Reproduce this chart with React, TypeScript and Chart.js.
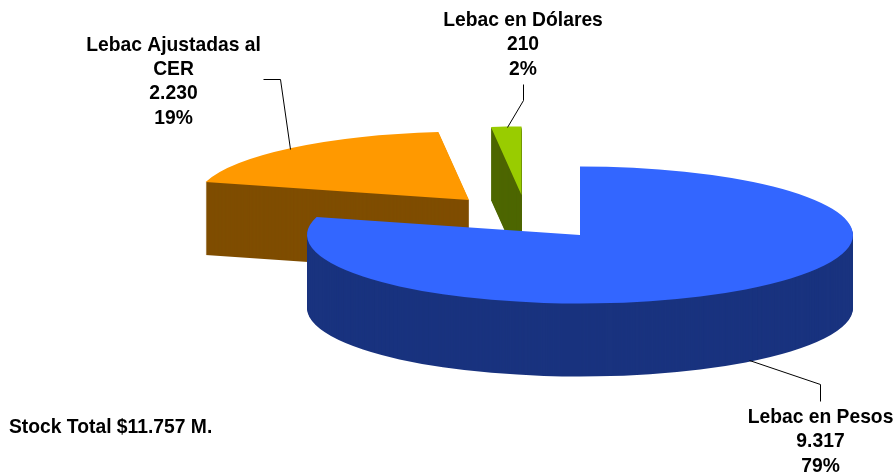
import React, { useEffect, useRef } from "react";
import { Chart, registerables } from "chart.js";

Chart.register(...registerables);

const categories = ["Lebac en Pesos", "Lebac Ajustadas al CER", "Lebac en Dólares"];
const values = [9317, 2230, 210];
const valueLabels = ["9.317", "2.230", "210"];
const percentLabels = ["79%", "19%", "2%"];
const stockLabel = "Stock Total $11.757 M.";

const topColors = ["#3366ff", "#ff9900", "#99cc00"];
const sideColors = ["#19337f", "#7f4d00", "#4d6600"];

// Projection of the 3D pie: slice centre on the page, and ellipse radii
const sliceCentres = [
  { x: 580, y: 235 },
  { x: 469, y: 200 },
  { x: 521.5, y: 195 },
];
const RX = 273;
const RY = 68.5;
const DEPTH = 73;
const drawOrder = [1, 2, 0];

const labelLines = [
  [["Lebac en Pesos"], 820.5, 423],
  [["Lebac Ajustadas al", "CER"], 173.5, 50.5],
  [["Lebac en Dólares"], 523, 26],
] as const;
const LINE_H = 24.4;
const FONT = 'bold 19.3px "Liberation Sans", Arial, sans-serif';

const leaders = [
  [[749, 360], [820, 384], [820, 401]],
  [[263, 79], [280, 79], [290, 149]],
  [[507, 127], [523, 100], [523, 84]],
];

const pie3d = {
  id: "pie3d",
  beforeDatasetsDraw(chart: any) {
    const ctx = chart.ctx;
    const arcs = chart.getDatasetMeta(0).data;
    const drawArc = (i: number, dy: number, color: string) => {
      const arc = arcs[i];
      const c = sliceCentres[i];
      const saved = arc.options;
      arc.options = { ...saved, backgroundColor: color };
      ctx.save();
      ctx.translate(c.x, c.y + dy);
      ctx.scale(RX / arc.outerRadius, RY / arc.outerRadius);
      ctx.translate(-arc.x, -arc.y);
      arc.draw(ctx);
      ctx.restore();
      arc.options = saved;
    };
    for (const i of drawOrder) {
      for (let d = DEPTH; d > 0; d--) drawArc(i, d, sideColors[i]);
      drawArc(i, 0, topColors[i]);
    }
    return false;
  },
  beforeDatasetDraw() {
    return false;
  },
  afterDraw(chart: any) {
    const ctx = chart.ctx;
    ctx.save();
    ctx.strokeStyle = "#000";
    ctx.lineWidth = 1;
    for (const pts of leaders) {
      ctx.beginPath();
      pts.forEach(([x, y], k) => (k ? ctx.lineTo(x + 0.5, y + 0.5) : ctx.moveTo(x + 0.5, y + 0.5)));
      ctx.stroke();
    }
    ctx.fillStyle = "#000";
    ctx.font = FONT;
    ctx.textAlign = "center";
    ctx.textBaseline = "alphabetic";
    labelLines.forEach(([names, x, y], i) => {
      const rows = [...names, valueLabels[i], percentLabels[i]];
      rows.forEach((t, k) => ctx.fillText(t, x, y + k * LINE_H));
    });
    ctx.textAlign = "left";
    ctx.fillText(stockLabel, 9, 433);
    ctx.restore();
  },
};

export default function App() {
  const ref = useRef<HTMLCanvasElement>(null);
  useEffect(() => {
    const chart = new Chart(ref.current!, {
      type: "pie",
      data: {
        labels: categories,
        datasets: [{ data: values, backgroundColor: topColors, borderWidth: 0 }],
      },
      options: {
        responsive: false,
        animation: false,
        layout: { padding: 0 },
        plugins: { legend: { display: false }, tooltip: { enabled: false } },
      },
      plugins: [pie3d],
    });
    return () => chart.destroy();
  }, []);
  return (
    <div style={{ position: "absolute", left: 0, top: 0, width: 894, height: 475, background: "#fff" }}>
      <canvas ref={ref} width={894} height={475} style={{ display: "block" }} />
    </div>
  );
}
